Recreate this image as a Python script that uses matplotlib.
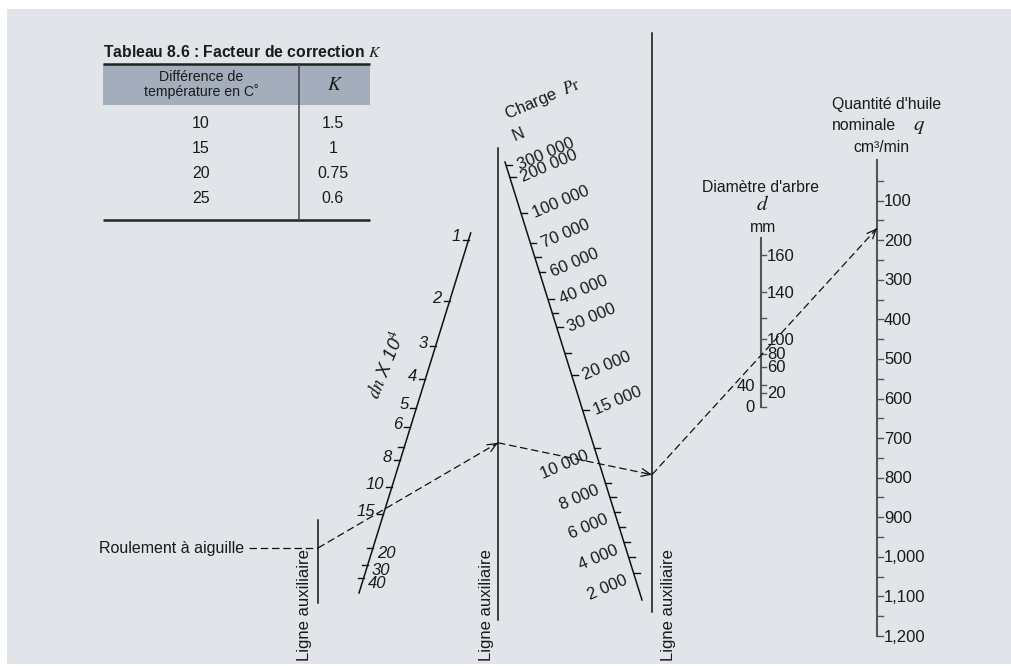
import numpy as np
import matplotlib
matplotlib.use('Agg')
import matplotlib.pyplot as plt
from matplotlib.patches import Rectangle

plt.rcParams['font.family'] = ['Liberation Sans', 'DejaVu Sans']
plt.rcParams['mathtext.fontset'] = 'stix'

# ---------------- data ----------------
table_temp = [10, 15, 20, 25]
table_k = ['1.5', '1', '0.75', '0.6']

# dn x 10^4 scale (value, label, fractional position along the scale line from top)
dn_values = [1, 2, 3, 4, 5, 6, 7, 8, 10, 15, 20, 30, 40]
dn_labels = ['1', '2', '3', '4', '5', '6', '', '8', '10', '15', '20', '30', '40']
dn_frac = [0.019, 0.189, 0.314, 0.406, 0.486, 0.539, 0.594, 0.631, 0.706, 0.781, 0.875, 0.922, 0.958]

# Charge Pr scale (N)
load_values = [300000, 200000, 100000, 70000, 65000, 60000, 40000, 35000, 30000, 25000,
               20000, 15000, 10000, 8000, 7000, 6000, 5000, 4000, 3000, 2000]
load_labels = ['300 000', '200 000', '100 000', '70 000', '', '60 000', '40 000', '', '30 000', '',
               '20 000', '15 000', '10 000', '8 000', '', '6 000', '', '4 000', '', '2 000']
load_frac = [0.007, 0.034, 0.116, 0.185, 0.217, 0.251, 0.313, 0.345, 0.377, 0.436,
             0.486, 0.566, 0.653, 0.733, 0.765, 0.799, 0.833, 0.868, 0.902, 0.938]

# Shaft diameter d (mm)
d_values = [160, 140, 120, 100, 80, 60, 40, 20, 0]
d_labels = ['160', '140', '', '100', '80', '60', '40', '20', '0']
d_frac = [0.101, 0.320, 0.473, 0.598, 0.686, 0.763, 0.870, 0.917, 1.0]
d_label_left = [False, False, False, False, False, False, True, False, True]

# Nominal oil quantity q (cm3/min)
q_major = [100, 200, 300, 400, 500, 600, 700, 800, 900, 1000, 1100, 1200]
q_major_labels = ['100', '200', '300', '400', '500', '600', '700', '800', '900', '1,000', '1,100', '1,200']
q_minor = [50, 150, 250, 350, 450, 550, 650, 750, 850, 950, 1050, 1150]
q_max = 1200

# worked example
ex_dn = 14
ex_load = 9100
ex_q = 170

# ---------------- layout ----------------
W, H = 1011, 666
fig = plt.figure(figsize=(W / 100, H / 100), dpi=100, facecolor='white')
ax = fig.add_axes([0, 0, 1, 1])
ax.set_xlim(0, W)
ax.set_ylim(H, 0)
ax.axis('off')

TXT = '#1a1a1a'
LINE = '#111111'
FS = 12

ax.add_patch(Rectangle((7, 9), W - 7, 655, facecolor='#E1E4E9', edgecolor='none', zorder=0))

def along(p0, p1, f):
    return (p0[0] + (p1[0] - p0[0]) * f, p0[1] + (p1[1] - p0[1]) * f)

# ---- table ----
tx0, tx1, tdiv = 103, 370, 299
ty0, thead, ty1 = 64, 105, 220
ax.add_patch(Rectangle((tx0, ty0), tx1 - tx0, thead - ty0, facecolor='#A3ADBC', edgecolor='none', zorder=1))
ax.plot([tx0, tx1], [ty0, ty0], color='#222222', lw=1.8, zorder=3, solid_capstyle='butt')
ax.plot([tx0, tx1], [ty1, ty1], color='#222222', lw=1.8, zorder=3, solid_capstyle='butt')
ax.plot([tdiv, tdiv], [ty0, ty1], color='#444444', lw=1.1, zorder=3)
ax.text(tx0, 52, r'Tableau 8.6 : Facteur de correction $K$', fontweight='bold', fontsize=11.3,
        ha='left', va='center', color=TXT)
ax.text((tx0 + tdiv) / 2, 84.5, 'Différence de\ntempérature en C\u02da', ha='center', va='center',
        fontsize=10.2, linespacing=1.0, color=TXT, zorder=4)
ax.text(335, 85, r'$K$', ha='center', va='center', fontsize=14, color=TXT, zorder=4)
for i, (t, k) in enumerate(zip(table_temp, table_k)):
    y = 123.5 + 25 * i
    ax.text((tx0 + tdiv) / 2, y, str(t), ha='center', va='center', fontsize=11.5, color=TXT)
    ax.text(333, y, k, ha='center', va='center', fontsize=11.5, color=TXT)

# ---- auxiliary lines ----
aux_x = [318, 498, 652]
aux_top = [520, 148, 33]
aux_bot = [603, 620, 612]
aux_lab_x = [304, 487, 668]
for x, t, b, lx in zip(aux_x, aux_top, aux_bot, aux_lab_x):
    ax.plot([x, x], [t, b], color=LINE, lw=1.1)
    ax.text(lx, 661, 'Ligne auxiliaire', rotation=90, ha='center', va='bottom', fontsize=FS, color=TXT)

# ---- dn scale ----
dn_p0, dn_p1 = (470.7, 233), (359, 593)
ax.plot([dn_p0[0], dn_p1[0]], [dn_p0[1], dn_p1[1]], color=LINE, lw=1.1)
for v, lab, f in zip(dn_values, dn_labels, dn_frac):
    x, y = along(dn_p0, dn_p1, f)
    ax.plot([x - 6, x], [y, y], color=LINE, lw=1.0)
    if lab:
        if v >= 20:
            ax.text(x + 4, y + 6, lab, ha='left', va='center', fontsize=FS, style='italic', color=TXT)
        else:
            ax.text(x - 8, y - 3, lab, ha='right', va='center', fontsize=FS, style='italic', color=TXT)
ax.text(387, 365, r'$dn$ X 10$^{4}$', rotation=68, ha='center', va='center', fontsize=13.5,
        style='italic', color=TXT)

# ---- load scale ----
ld_p0, ld_p1 = (505, 162), (642, 600)
ax.plot([ld_p0[0], ld_p1[0]], [ld_p0[1], ld_p1[1]], color=LINE, lw=1.1)
for v, lab, f in zip(load_values, load_labels, load_frac):
    x, y = along(ld_p0, ld_p1, f)
    ax.plot([x, x + 6], [y, y], color=LINE, lw=1.0)
    if lab:
        if v > 10000:
            ax.text(x + 12, y + 1, lab, rotation=23, rotation_mode='anchor', ha='left', va='center',
                    fontsize=FS, color=TXT)
        else:
            f2 = f + 7 / (ld_p1[1] - ld_p0[1])
            x2, y2 = along(ld_p0, ld_p1, f2)
            ax.text(x2 - 9, y2, lab, rotation=23, rotation_mode='anchor', ha='right', va='center',
                    fontsize=FS, color=TXT)
ax.text(507, 119, r'Charge  $P\mathrm{r}$', rotation=23, rotation_mode='anchor', ha='left',
        va='baseline', fontsize=FS, color=TXT)
ax.text(518, 135, 'N', rotation=23, ha='center', va='center', fontsize=FS, color=TXT)

# ---- d scale ----
d_x, d_top, d_bot = 761, 238, 407
GREY = '#555555'
ax.plot([d_x, d_x], [d_top, d_bot], color=GREY, lw=1.5)
for v, lab, f, left in zip(d_values, d_labels, d_frac, d_label_left):
    y = d_top + (d_bot - d_top) * f
    ax.plot([d_x, d_x + 5], [y, y], color=GREY, lw=1.0)
    if lab:
        if left:
            ax.text(d_x - 6, y + 1, lab, ha='right', va='center', fontsize=FS, color=TXT)
        else:
            ax.text(d_x + 6, y + 1, lab, ha='left', va='center', fontsize=FS, color=TXT)
ax.text(761, 187, "Diamètre d'arbre", ha='center', va='center', fontsize=11.3, color=TXT)
ax.text(762, 205, r'$d$', ha='center', va='center', fontsize=15, color=TXT)
ax.text(763, 227, 'mm', ha='center', va='center', fontsize=11.3, color=TXT)

# ---- q scale ----
q_x, q_top, q_bot = 877, 161, 636
ax.plot([q_x, q_x], [q_top - 1, q_bot], color=GREY, lw=1.5)
def q_y(q):
    return q_top + (q_bot - q_top) * q / q_max
for q, lab in zip(q_major, q_major_labels):
    y = q_y(q)
    ax.plot([q_x, q_x + 6], [y, y], color=GREY, lw=1.0)
    ax.text(q_x + 7, y + 1, lab, ha='left', va='center', fontsize=FS, color=TXT)
for q in q_minor:
    y = q_y(q)
    ax.plot([q_x, q_x + 6], [y, y], color=GREY, lw=1.0)
ax.text(832, 105, "Quantité d'huile", ha='left', va='center', fontsize=11.3, color=TXT)
ax.text(832, 126, 'nominale', ha='left', va='center', fontsize=11.3, color=TXT)
ax.text(919, 126, r'$q$', ha='center', va='center', fontsize=15, color=TXT)
ax.text(881, 147, 'cm³/min', ha='center', va='center', fontsize=11.3, color=TXT)

# ---- worked example path ----
ax.text(99, 548, 'Roulement à aiguille', ha='left', va='center', fontsize=11.5, color=TXT)
A = (aux_x[0], 548)
DASH = dict(color='#111111', lw=0.9, dashes=(6, 3))
ax.plot([249, A[0]], [A[1], A[1]], **DASH)

fdn = np.interp(ex_dn, dn_values, dn_frac)
Pdn = along(dn_p0, dn_p1, fdn)
B = (aux_x[1], A[1] + (Pdn[1] - A[1]) * (aux_x[1] - A[0]) / (Pdn[0] - A[0]))

fld = np.interp(ex_load, load_values[::-1], load_frac[::-1])
Pld = along(ld_p0, ld_p1, fld)
C = (aux_x[2], B[1] + (Pld[1] - B[1]) * (aux_x[2] - B[0]) / (Pld[0] - B[0]))

D = (q_x, q_y(ex_q))

def arrow_seg(p, q):
    ax.plot([p[0], q[0]], [p[1], q[1]], **DASH)
    d = np.array(q) - np.array(p)
    d = d / np.hypot(*d)
    back = (q[0] - 2 * d[0], q[1] - 2 * d[1])
    ax.annotate('', xy=q, xytext=back,
                arrowprops=dict(arrowstyle='->,head_length=0.65,head_width=0.28', color='#111111',
                                lw=0.9, shrinkA=0, shrinkB=0))

arrow_seg(A, B)
arrow_seg(B, C)
arrow_seg(C, D)

fig.savefig('out.png', dpi=100, facecolor='white')
